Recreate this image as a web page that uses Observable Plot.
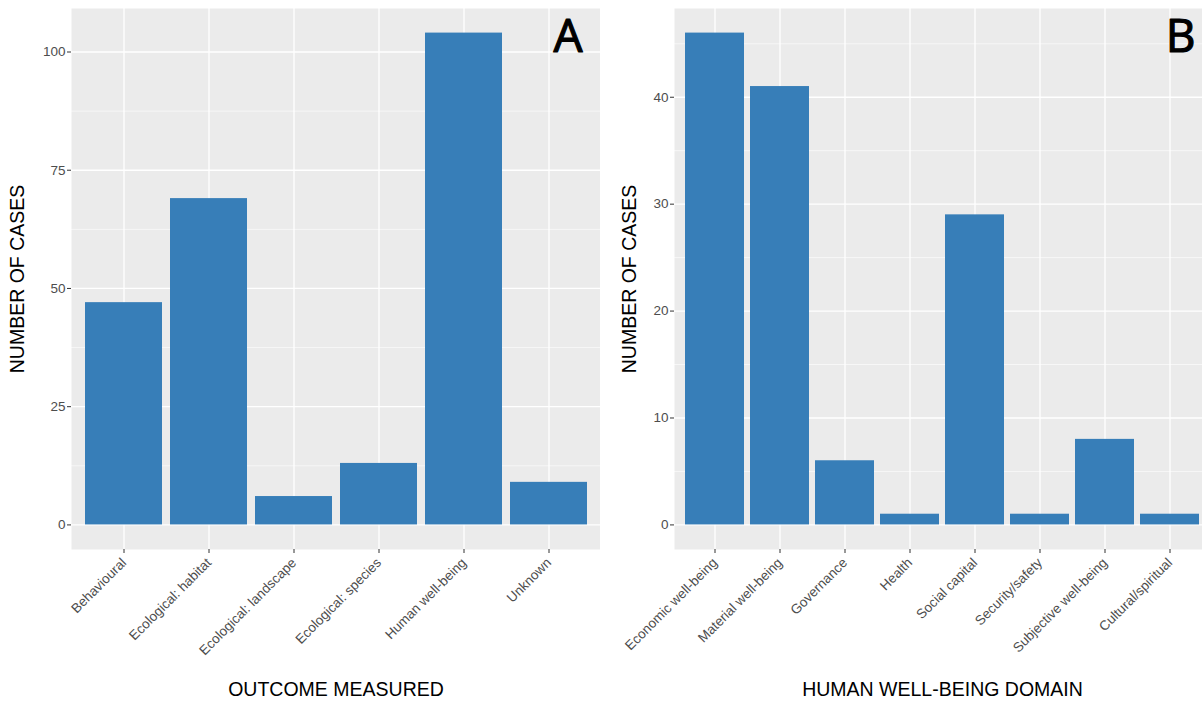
<!DOCTYPE html>
<html>
<head>
<meta charset="utf-8">
<script src="https://cdn.jsdelivr.net/npm/d3@7"></script>
<script src="https://cdn.jsdelivr.net/npm/@observablehq/plot@0.6"></script>
<style>
  html, body { margin: 0; padding: 0; background: #fff; overflow: hidden; }
  #wrap { position: relative; width: 1202px; height: 706px; overflow: hidden; }
  #pa { position: absolute; left: 0; top: 0; width: 600px; }
  #pb { position: absolute; left: 600px; top: 0; width: 610px; }
  svg { font-family: "Liberation Sans", Arial, sans-serif; max-width: none !important; }
</style>
</head>
<body>
<div id="wrap"><div id="pa"></div><div id="pb"></div></div>
<script>
// Panel A
const outcomes = ["Behavioural", "Ecological: habitat", "Ecological: landscape", "Ecological: species", "Human well-being", "Unknown"];
const outcomeCounts = [47, 69, 6, 13, 104, 9];
const outcomeTicks = [0, 25, 50, 75, 100];
const outcomeMinor = [12.5, 37.5, 62.5, 87.5];

// Panel B
const domains = ["Economic well-being", "Material well-being", "Governance", "Health", "Social capital", "Security/safety", "Subjective well-being", "Cultural/spiritual"];
const domainCounts = [46, 41, 6, 1, 29, 1, 8, 1];
const domainTicks = [0, 10, 20, 30, 40];
const domainMinor = [5, 15, 25, 35, 45];

function panel({cats, counts, ticks, minor, xTitle, letter, width, marginLeft, yTitleDx, letterDx}) {
  const data = cats.map((c, i) => ({cat: c, n: counts[i]}));
  const max = d3.max(counts);
  return Plot.plot({
    width, height: 706,
    marginLeft, marginRight: 0, marginTop: 8, marginBottom: 157,
    style: {background: "transparent", fontFamily: "Liberation Sans, Arial, sans-serif", maxWidth: "none"},
    x: {type: "band", domain: cats, paddingInner: 0.1, paddingOuter: 0.15, align: 0.5},
    y: {domain: [-0.05 * max, 1.05 * max]},
    marks: [
      Plot.frame({fill: "#EBEBEB", stroke: null}),
      Plot.ruleY(minor, {stroke: "#fff", strokeWidth: 0.6}),
      Plot.ruleY(ticks, {stroke: "#fff", strokeWidth: 1.3}),
      Plot.ruleX(cats, {stroke: "#fff", strokeWidth: 1.3}),
      Plot.barY(data, {x: "cat", y: "n", fill: "#377EB8"}),
      Plot.axisY({ticks, tickSize: 4, tickPadding: 2, stroke: "#333", fill: "#4D4D4D", fontSize: 13.5, label: null}),
      Plot.axisX({tickSize: 4, tickPadding: 7, tickRotate: -45, stroke: "#333", fill: "#4D4D4D", fontSize: 13.5, label: null}),
      Plot.text([xTitle], {frameAnchor: "bottom", dy: 146, fontSize: 19.5, fill: "#000"}),
      Plot.text(["NUMBER OF CASES"], {frameAnchor: "left", textAnchor: "middle", dx: yTitleDx, rotate: -90, fontSize: 19.5, fill: "#000"}),
      Plot.text([letter], {frameAnchor: "top-right", textAnchor: "end", lineAnchor: "middle", dx: letterDx, dy: 29, fontSize: 46, fontFamily: "Open Sans, sans-serif", fill: "#000", stroke: "#000", strokeWidth: 1.2})
    ]
  });
}

document.getElementById("pa").appendChild(panel({
  cats: outcomes, counts: outcomeCounts, ticks: outcomeTicks, minor: outcomeMinor,
  xTitle: "OUTCOME MEASURED", letter: "A", width: 600, marginLeft: 71, yTitleDx: -54, letterDx: -18
}));
document.getElementById("pb").appendChild(panel({
  cats: domains, counts: domainCounts, ticks: domainTicks, minor: domainMinor,
  xTitle: "HUMAN WELL-BEING DOMAIN", letter: "B", width: 610, marginLeft: 74, yTitleDx: -45, letterDx: -15
}));
</script>
</body>
</html>
